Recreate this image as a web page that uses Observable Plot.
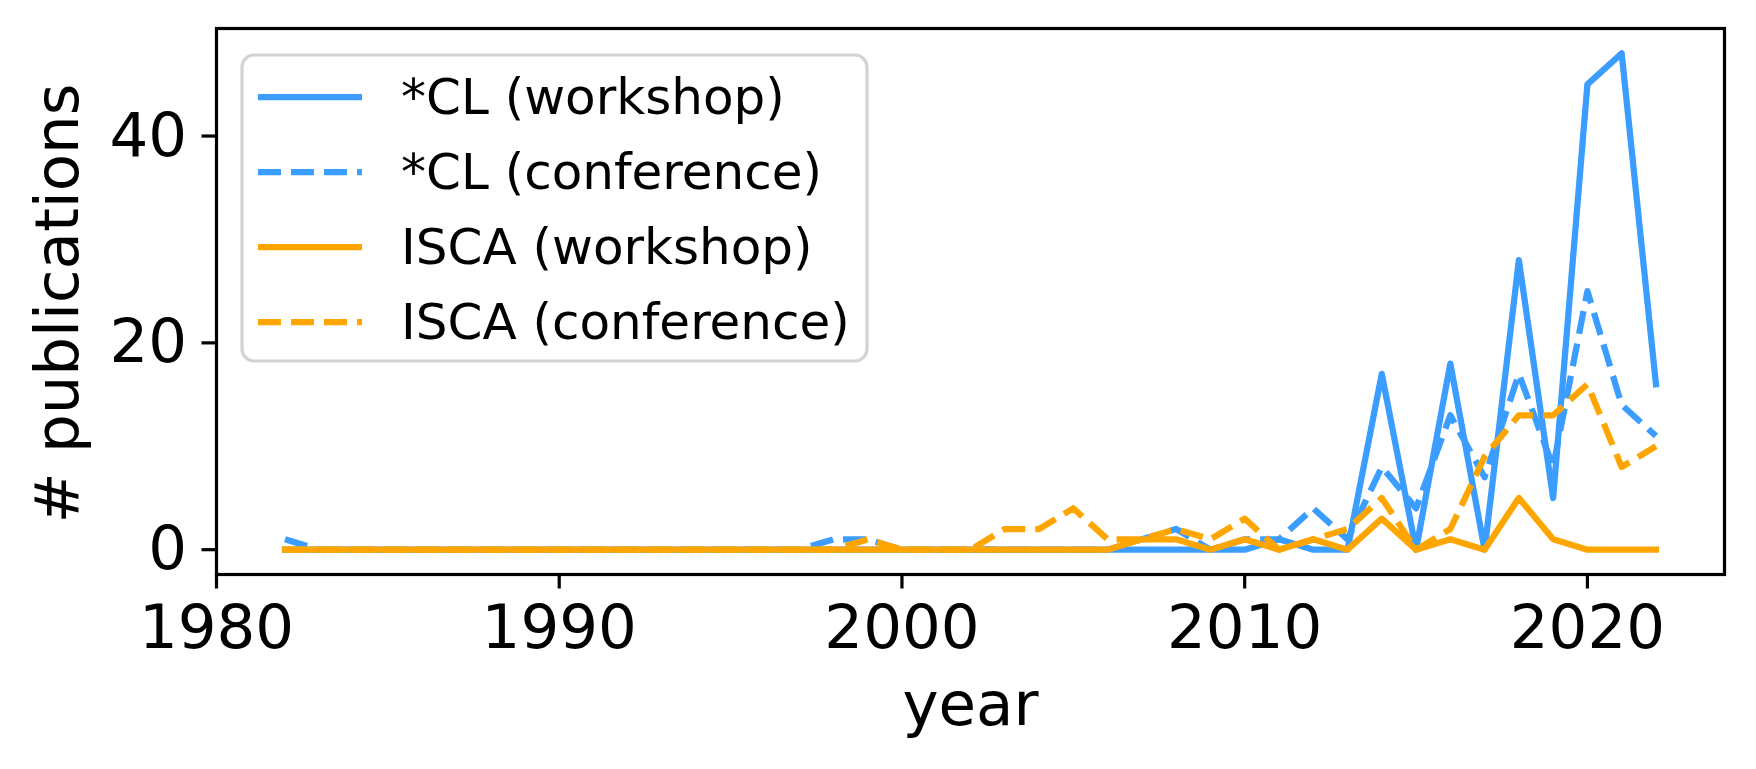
<!DOCTYPE html>
<html><head><meta charset="utf-8">
<script src="https://cdn.jsdelivr.net/npm/d3@7"></script>
<script src="https://cdn.jsdelivr.net/npm/@observablehq/plot@0.6"></script>
<style>
html,body{margin:0;padding:0;background:#fff;}
#wrap{position:relative;width:1756px;height:769px;overflow:hidden;font-family:"DejaVu Sans",sans-serif;}
#legend{position:absolute;left:0;top:0;pointer-events:none;}
</style></head><body><div id="wrap"></div>
<script>
// ---- data ----
const years = [1982,1983,1984,1985,1986,1987,1988,1989,1990,1991,1992,1993,1994,1995,1996,1997,1998,1999,2000,2001,2002,2003,2004,2005,2006,2007,2008,2009,2010,2011,2012,2013,2014,2015,2016,2017,2018,2019,2020,2021,2022];
//                 82 83 84 85 86 87 88 89 90 91 92 93 94 95 96 97 98 99 00 01 02 03 04 05 06 07 08 09 10 11 12 13 14 15 16 17 18 19 20 21 22
const clWorkshop     = [0, 0, 0, 0, 0, 0, 0, 0, 0, 0, 0, 0, 0, 0, 0, 0, 0, 0, 0, 0, 0, 0, 0, 0, 0, 0, 0, 0, 0, 1, 0, 0,17, 0,18, 0,28, 5,45,48,16];
const clConference   = [1, 0, 0, 0, 0, 0, 0, 0, 0, 0, 0, 0, 0, 0, 0, 0, 1, 1, 0, 0, 0, 0, 0, 0, 0, 1, 2, 0, 1, 1, 4, 1, 8, 4,13, 7,17, 8,25,14,11];
const iscaWorkshop   = [0, 0, 0, 0, 0, 0, 0, 0, 0, 0, 0, 0, 0, 0, 0, 0, 0, 0, 0, 0, 0, 0, 0, 0, 0, 1, 1, 0, 1, 0, 1, 0, 3, 0, 1, 0, 5, 1, 0, 0, 0];
const iscaConference = [0, 0, 0, 0, 0, 0, 0, 0, 0, 0, 0, 0, 0, 0, 0, 0, 0, 1, 0, 0, 0, 2, 2, 4, 1, 1, 2, 1, 3, 0, 1, 2, 5, 0, 2, 9,13,13,16, 8,10];
const seriesNames = ["*CL (workshop)", "*CL (conference)", "ISCA (workshop)", "ISCA (conference)"];
const xTicks = [1980, 1990, 2000, 2010, 2020];
const yTicks = [0, 20, 40];
const xLabel = "year";
const yLabel = "# publications";

// ---- styles ----
const BLUE = "#3b9dff", ORANGE = "#ffa500";
const seriesValues = [clWorkshop, clConference, iscaWorkshop, iscaConference];
const seriesColor = [BLUE, BLUE, ORANGE, ORANGE];
const seriesDash = [null, "23,10", null, "23,10"];

const W = 1756, H = 769, mL = 216, mR = 32, mT = 28, mB = 195;
const LW = 6.25, AXW = 3.2, FS = 61;

const lineMarks = seriesValues.map((vals, k) => Plot.lineY(years, {
  x: years, y: vals,
  stroke: seriesColor[k], strokeWidth: LW,
  strokeDasharray: seriesDash[k] || undefined,
  strokeLinejoin: "round",
  strokeLinecap: seriesDash[k] ? "butt" : "square"
}));

const chart = Plot.plot({
  width: W, height: H,
  marginLeft: mL, marginRight: mR, marginTop: mT, marginBottom: mB,
  style: {fontFamily: '"DejaVu Sans", sans-serif', fontSize: FS + "px", background: "white", color: "black", overflow: "visible"},
  x: {domain: [1980, 2024]},
  y: {domain: [-2.4, 50.4]},
  marks: [
    ...lineMarks,
    Plot.frame({stroke: "black", strokeWidth: AXW}),
    Plot.axisX({ticks: xTicks, tickFormat: d => String(d), tickSize: 14.5, tickPadding: 16, strokeWidth: AXW, fontSize: FS, label: null}),
    Plot.axisY({ticks: yTicks, tickFormat: d => String(d), tickSize: 14.5, tickPadding: 15, strokeWidth: AXW, fontSize: FS, label: null}),
    Plot.text([xLabel], {text: d => d, frameAnchor: "bottom", dy: 131, fontSize: FS, lineAnchor: "middle", textAnchor: "middle"}),
    Plot.text([yLabel], {text: d => d, frameAnchor: "left", dx: -158, dy: 2, rotate: -90, fontSize: FS, lineAnchor: "middle", textAnchor: "middle"})
  ]
});
document.getElementById("wrap").appendChild(chart);

// ---- legend (inside axes, upper left) ----
const ns = "http://www.w3.org/2000/svg";
const leg = document.createElementNS(ns, "svg");
leg.setAttribute("id", "legend");
leg.setAttribute("width", W); leg.setAttribute("height", H);
const box = document.createElementNS(ns, "rect");
Object.entries({x: 242, y: 55, width: 625, height: 306, rx: 12, fill: "white", "fill-opacity": 0.8, stroke: "#d3d3d3", "stroke-width": 3.2}).forEach(([k, v]) => box.setAttribute(k, v));
leg.appendChild(box);
const rowY = [97, 172, 247, 322];
seriesNames.forEach((name, k) => {
  const ln = document.createElementNS(ns, "line");
  Object.entries({x1: 258, x2: 362, y1: rowY[k], y2: rowY[k], stroke: seriesColor[k], "stroke-width": LW}).forEach(([a, v]) => ln.setAttribute(a, v));
  if (seriesDash[k]) ln.setAttribute("stroke-dasharray", seriesDash[k]);
  leg.appendChild(ln);
  const t = document.createElementNS(ns, "text");
  t.setAttribute("x", 401); t.setAttribute("y", rowY[k]);
  t.setAttribute("dominant-baseline", "central");
  t.setAttribute("font-family", '"DejaVu Sans", sans-serif');
  t.setAttribute("font-size", 50);
  t.setAttribute("fill", "black");
  t.textContent = name;
  leg.appendChild(t);
});
document.getElementById("wrap").appendChild(leg);
</script></body></html>
